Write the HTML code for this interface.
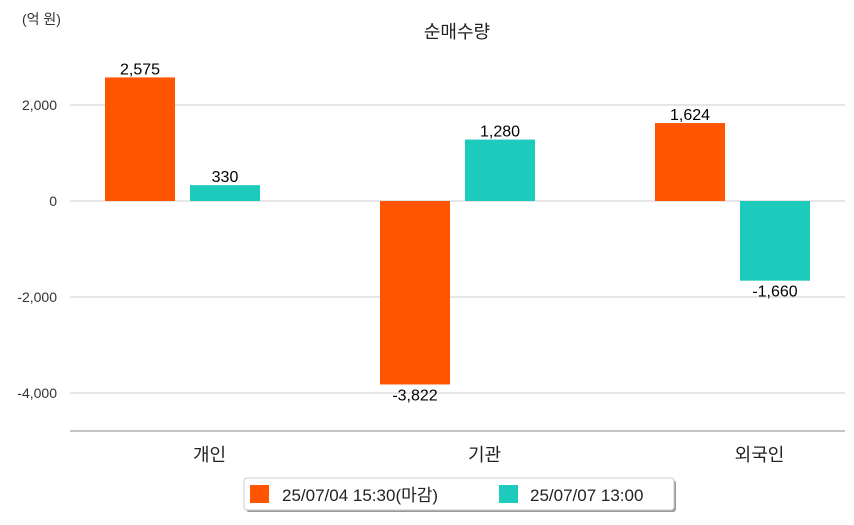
<!DOCTYPE html>
<html><head><meta charset="utf-8"><style>
body{margin:0;background:#fff;}
svg text{font-family:"Liberation Sans","Noto Sans CJK KR",sans-serif;}
</style></head><body>
<svg id="c" width="854" height="520" xmlns="http://www.w3.org/2000/svg">
<text x="22" y="24" font-size="14" fill="#333">(억 원)</text>
<text x="457" y="38" font-size="18" text-anchor="middle" fill="#222">순매수량</text>
<g id="grid"></g><g id="bars"></g>
<line x1="70" y1="431" x2="845" y2="431" stroke="#888" stroke-width="1"/>
<g>
<rect x="246" y="480" width="430" height="32" rx="3" fill="#999"/>
<rect x="244" y="478" width="430" height="32" rx="3" fill="#fff" stroke="#ccc"/>
<rect x="250" y="485" width="19" height="18" fill="#ff5500"/>
<text x="282" y="501" font-size="17" fill="#222">25/07/04 15:30(마감)</text>
<rect x="499" y="485" width="19" height="18" fill="#1ccbbb"/>
<text x="530" y="501" font-size="17" fill="#222">25/07/07 13:00</text>
</g>
</svg>
<script>
const categories=["개인","기관","외국인"];
const seriesClose=[2575,-3822,1624];
const seriesNow=[330,1280,-1660];
const yTicks=[2000,0,-2000,-4000];
const colors=["#ff5500","#1ccbbb"];
const ns="http://www.w3.org/2000/svg";
const y=v=>201-v*0.048;
const x0=70,cw=275;
const grid=document.getElementById('grid'),bars=document.getElementById('bars');
function mk(t,a,p){const e=document.createElementNS(ns,t);for(const k in a)e.setAttribute(k,a[k]);p.appendChild(e);return e;}
yTicks.forEach(t=>{
 const l=mk('line',{x1:70,x2:845,y1:y(t),y2:y(t),stroke:'#ccc'},grid);
 
 
 const tx=mk('text',{x:57,y:y(t)+5,'font-size':14,'text-anchor':'end',fill:'#333'},grid);
 tx.textContent=t.toLocaleString('en-US');
 
 
});
categories.forEach((c,i)=>{
 const cx=x0+cw*i;
 [seriesClose[i],seriesNow[i]].forEach((v,j)=>{
  const bx=cx+35+j*85;
  const top=Math.min(y(v),y(0)),h=Math.abs(y(v)-y(0));
  const r=mk('rect',{x:bx,y:top,width:70,height:h,fill:colors[j]},bars);
  
  
  const t=mk('text',{x:bx+35,y:v>=0?y(v)-3:y(v)+16,'font-size':16,'text-anchor':'middle',fill:'#000'},bars);
  t.textContent=v.toLocaleString('en-US');
  
  
 });
 const lab=mk('text',{x:cx+cw/2+2,y:461,'font-size':18,'text-anchor':'middle',fill:'#222'},bars);
 lab.textContent=c;
 
 
});
</script>
</body></html>
